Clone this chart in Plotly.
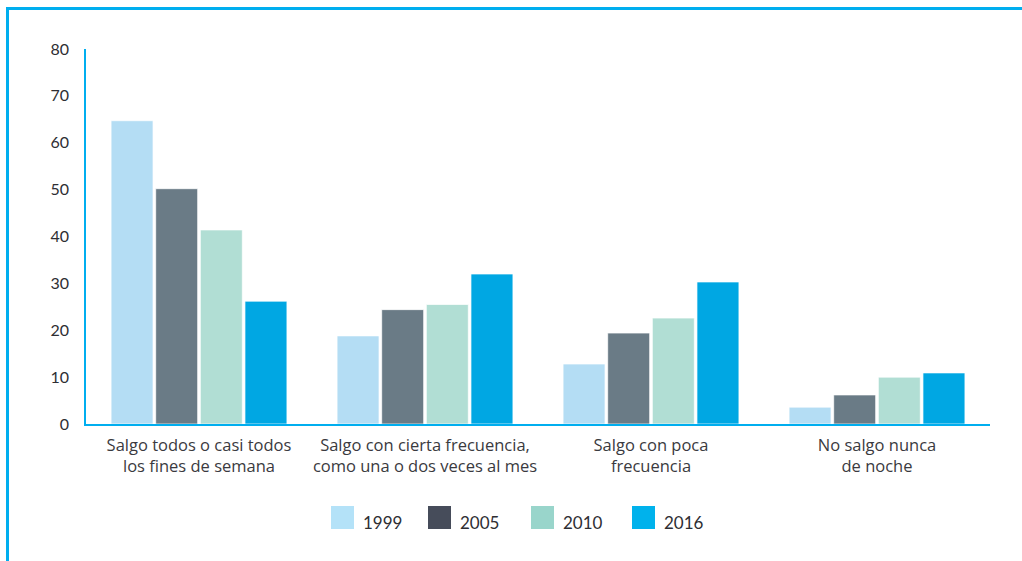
import plotly.graph_objects as go

# Survey categories (two-line labels) and yearly percentages
categories = [
    "Salgo todos o casi todos<br>los fines de semana",
    "Salgo con cierta frecuencia,<br>como una o dos veces al mes",
    "Salgo con poca<br>frecuencia",
    "No salgo nunca<br>de noche",
]
years = ["1999", "2005", "2010", "2016"]
values_1999 = [64.7, 18.8, 12.8, 3.6]
values_2005 = [50.2, 24.4, 19.4, 6.2]
values_2010 = [41.4, 25.5, 22.6, 10.0]
values_2016 = [26.2, 32.0, 30.3, 10.9]
y_ticks = [0, 10, 20, 30, 40, 50, 60, 70, 80]

series = [values_1999, values_2005, values_2010, values_2016]
bar_colors = ["#B4DDF4", "#6A7B86", "#B1DED4", "#00A7E3"]
legend_colors = ["#B4E2F8", "#464C5A", "#99D5CB", "#00B2EC"]
accent = "#00AEEF"
text_color = "#2E2E33"
font_family = "Lato, 'Noto Sans', sans-serif"
label_family = "'Open Sans', 'Noto Sans', sans-serif"

fig = go.Figure()
for year, vals, col in zip(years, series, bar_colors):
    fig.add_trace(go.Bar(
        x=categories, y=vals, name=year, showlegend=False,
        marker=dict(color=col, line=dict(color="rgba(255,255,255,0.7)", width=1)),
    ))

# Plot-area geometry in pixels, used to place the frame and the legend
W, H = 1022, 561
L, R, T, B = 86, 32, 49, 137
pw, ph = W - L - R, H - T - B


def px_x(x):
    return (x - L) / pw


def px_y(y):
    return (H - B - y) / ph


shapes = [
    # outer frame: top and left accent rules
    dict(type="line", xref="paper", yref="paper",
         x0=px_x(6), x1=px_x(W + 5), y0=px_y(8.5), y1=px_y(8.5),
         line=dict(color=accent, width=3)),
    dict(type="line", xref="paper", yref="paper",
         x0=px_x(7.5), x1=px_x(7.5), y0=px_y(7), y1=px_y(H + 5),
         line=dict(color=accent, width=3)),
]
annotations = []

# Custom legend with large square swatches
legend_x = [331, 428, 531, 632]
for year, col, x0 in zip(years, legend_colors, legend_x):
    shapes.append(dict(type="rect", xref="paper", yref="paper",
                       x0=px_x(x0), x1=px_x(x0 + 23), y0=px_y(529), y1=px_y(506),
                       fillcolor=col, line=dict(width=0)))
    annotations.append(dict(xref="paper", yref="paper", x=px_x(x0 + 30), y=px_y(522),
                            text=year, showarrow=False, xanchor="left", yanchor="middle",
                            font=dict(size=17, color=text_color, family=font_family)))

fig.update_layout(
    width=W, height=H,
    margin=dict(l=L, r=R, t=T, b=B),
    paper_bgcolor="white", plot_bgcolor="white",
    barmode="group", bargap=0.21, bargroupgap=0.06,
    font=dict(family=font_family, color=text_color),
    shapes=shapes, annotations=annotations,
    showlegend=False,
)
fig.update_xaxes(
    showline=True, linecolor=accent, linewidth=1.5,
    showgrid=False, ticks="", tickfont=dict(size=16.5, color="#3A3A40", family=label_family),
    ticklabelstandoff=5,
)
fig.update_yaxes(
    range=[0, 80], tickvals=y_ticks, showgrid=False, zeroline=False,
    showline=True, linecolor=accent, linewidth=1.5, ticks="",
    tickfont=dict(size=16, color=text_color), ticklabelstandoff=12,
)

fig.write_html("out.html")
